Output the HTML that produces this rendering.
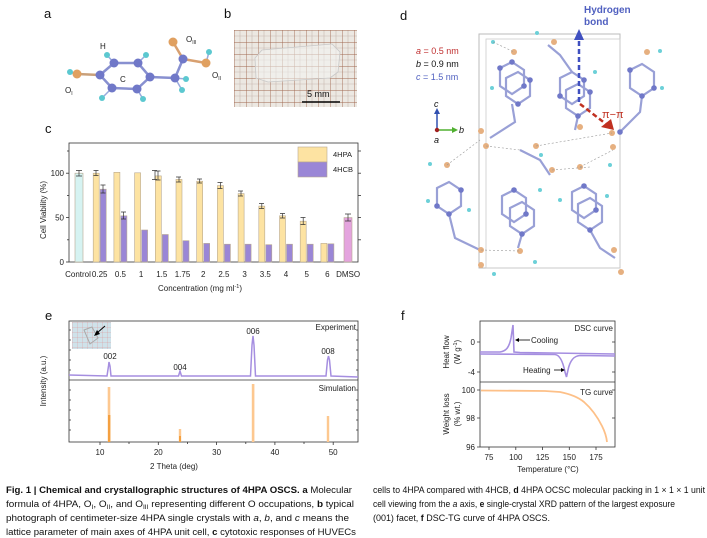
<!DOCTYPE html>
<html><head><meta charset="utf-8"><style>
html,body{margin:0;padding:0;background:#fff}
svg{display:block}
text{font-family:"Liberation Sans",sans-serif}
.cap{font-family:"Liberation Sans Narrow","Liberation Sans",sans-serif;font-size:9px;fill:#111}
</style></head><body>
<svg width="707" height="538" viewBox="0 0 707 538" xmlns="http://www.w3.org/2000/svg">
<g font-size="13" fill="#111">
<text x="44" y="18">a</text><text x="224" y="18">b</text><text x="45" y="133">c</text>
<text x="400" y="20">d</text><text x="45" y="320">e</text><text x="401" y="320">f</text>
</g>

<g stroke="#8890d0" stroke-width="2.5" fill="none">
<polygon points="100,75 114,63 138,63 150,77 137,89 112,88"/>
<line x1="77" y1="74" x2="100" y2="75" stroke="#c9a07a"/>
<line x1="150" y1="77" x2="175" y2="78"/>
<line x1="175" y1="78" x2="183" y2="59"/>
<line x1="183" y1="59" x2="173" y2="42" stroke="#d8a070"/>
<line x1="183" y1="59" x2="206" y2="63" stroke="#d8a070"/>
</g>
<g stroke="#9ad" stroke-width="1.5">
<line x1="114" y1="63" x2="107" y2="55"/><line x1="138" y1="63" x2="146" y2="55"/>
<line x1="112" y1="88" x2="102" y2="98"/><line x1="137" y1="89" x2="143" y2="99"/>
<line x1="77" y1="74" x2="70" y2="72"/><line x1="175" y1="78" x2="186" y2="79"/>
<line x1="175" y1="78" x2="182" y2="90"/><line x1="206" y1="63" x2="209" y2="52"/>
</g>
<g fill="#7078c8">
<circle cx="100" cy="75" r="4.5"/><circle cx="114" cy="63" r="4.5"/><circle cx="138" cy="63" r="4.5"/>
<circle cx="150" cy="77" r="4.5"/><circle cx="137" cy="89" r="4.5"/><circle cx="112" cy="88" r="4.5"/>
<circle cx="175" cy="78" r="4.5"/><circle cx="183" cy="59" r="4.5"/>
</g>
<g fill="#e0a060"><circle cx="77" cy="74" r="4.5"/><circle cx="173" cy="42" r="4.5"/><circle cx="206" cy="63" r="4.5"/></g>
<g fill="#5cc8d0">
<circle cx="107" cy="55" r="3"/><circle cx="146" cy="55" r="3"/><circle cx="102" cy="98" r="3"/><circle cx="143" cy="99" r="3"/>
<circle cx="70" cy="72" r="3"/><circle cx="186" cy="79" r="3"/><circle cx="182" cy="90" r="3"/><circle cx="209" cy="52" r="3"/>
</g>
<g font-size="8" fill="#222">
<text x="100" y="49">H</text><text x="120" y="82">C</text>
<text x="65" y="93">O<tspan font-size="5" dy="2">I</tspan></text>
<text x="186" y="42">O<tspan font-size="5" dy="2">III</tspan></text>
<text x="212" y="78">O<tspan font-size="5" dy="2">II</tspan></text>
</g>

<defs>
<pattern id="grid" x="234" y="30" width="12" height="12" patternUnits="userSpaceOnUse">
<rect width="12" height="12" fill="#ece8e2"/>
<path d="M6 0V12M0 6H12" stroke="#c8b8b0" stroke-width="0.6"/>
<path d="M0 0V12M0 0H12" stroke="#a06850" stroke-width="0.9"/>
</pattern>
<pattern id="grid2" x="72" y="322" width="5" height="5" patternUnits="userSpaceOnUse">
<rect width="5" height="5" fill="#cfe2ea"/>
<path d="M0 0V5M0 0H5" stroke="#e09090" stroke-width="0.5"/>
</pattern>
</defs>
<rect x="234" y="30" width="123" height="77" fill="url(#grid)"/>
<polygon points="262,50 332,44 340,52 338,72 330,78 268,82 256,78 255,58" fill="#f4f4f2" fill-opacity="0.55" stroke="#c8c8c8" stroke-width="0.8"/>
<line x1="302" y1="102" x2="340" y2="102" stroke="#000" stroke-width="1.5"/>
<text x="307" y="97" font-size="9" fill="#111">5 mm</text>

<rect x="69" y="143" width="289" height="119" fill="none" stroke="#333" stroke-width="0.8"/>
<g stroke="#333" stroke-width="0.8">
<line x1="66" y1="262" x2="69" y2="262"/><line x1="66" y1="217.6" x2="69" y2="217.6"/><line x1="66" y1="173.2" x2="69" y2="173.2"/>
<line x1="67" y1="239.8" x2="69" y2="239.8"/><line x1="67" y1="195.4" x2="69" y2="195.4"/><line x1="67" y1="151" x2="69" y2="151"/>
<line x1="358" y1="239.8" x2="361" y2="239.8"/><line x1="358" y1="217.6" x2="361" y2="217.6"/><line x1="358" y1="195.4" x2="361" y2="195.4"/><line x1="358" y1="173.2" x2="361" y2="173.2"/><line x1="358" y1="151" x2="361" y2="151"/>
</g>
<g font-size="8" fill="#222" text-anchor="end">
<text x="64" y="265">0</text><text x="64" y="220.5">50</text><text x="64" y="176">100</text>
</g>
<text transform="translate(46,210) rotate(-90)" font-size="8" fill="#222" text-anchor="middle">Cell Viability (%)</text>
<g stroke="#b8a890" stroke-width="0.6">
<rect x="75" y="173.2" width="8" height="88.8" fill="#d6f3f2"/>
<rect x="344" y="217.6" width="8" height="44.4" fill="#e4a4de"/>
<g fill="#fde3a2">
<rect x="93.2" y="173.2" width="6" height="88.8"/><rect x="113.9" y="172.3" width="6" height="89.7"/>
<rect x="134.6" y="172.8" width="6" height="89.2"/><rect x="155.3" y="175.9" width="6" height="86.1"/>
<rect x="176" y="179.4" width="6" height="82.6"/><rect x="196.7" y="181.2" width="6" height="80.8"/>
<rect x="217.4" y="185.6" width="6" height="76.4"/><rect x="238.1" y="193.6" width="6" height="68.4"/>
<rect x="258.8" y="206.1" width="6" height="55.9"/><rect x="279.5" y="215.8" width="6" height="46.2"/>
<rect x="300.2" y="221.2" width="6" height="40.8"/><rect x="320.9" y="243.4" width="6" height="18.6"/>
</g>
<g fill="#9a86d6">
<rect x="100.2" y="189.2" width="6" height="72.8"/><rect x="120.9" y="215.8" width="6" height="46.2"/>
<rect x="141.6" y="230" width="6" height="32"/><rect x="162.3" y="234.5" width="6" height="27.5"/>
<rect x="183" y="240.7" width="6" height="21.3"/><rect x="203.7" y="243.4" width="6" height="18.6"/>
<rect x="224.4" y="244.2" width="6" height="17.8"/><rect x="245.1" y="244.2" width="6" height="17.8"/>
<rect x="265.8" y="244.7" width="6" height="17.3"/><rect x="286.5" y="244.2" width="6" height="17.8"/>
<rect x="307.2" y="244.2" width="6" height="17.8"/><rect x="327.9" y="243.8" width="6" height="18.2"/>
</g>
</g>
<g stroke="#333" stroke-width="0.7">
<path d="M76 170.5h6M79 170.5v5.5M76 176h6"/><path d="M93.5 170.5h5M96 170.5v5M93.5 175.5h5"/>
<path d="M100.5 185h5M103 185v8M100.5 193h5"/><path d="M121 212h5M123.5 212v7M121 219h5"/>
<path d="M152 170.5h5M155 170.5v9M152 179.5h5"/><path d="M155.5 171h5M158 171v9M155.5 180h5"/>
<path d="M176 177h5M179 177v5M176 182h5"/><path d="M197 179h5M199.7 179v4M197 183h5"/>
<path d="M217.5 182.5h5M220.4 182.5v6M217.5 188.5h5"/><path d="M238 191h5M241 191v5M238 196h5"/>
<path d="M259 203.5h5M261.8 203.5v5M259 208.5h5"/><path d="M280 213.5h5M282.5 213.5v4.5M280 218h5"/>
<path d="M300.5 217.5h5M303.2 217.5v7M300.5 224.5h5"/><path d="M345 214h6M348 214v7M345 221h6"/>
</g>
<rect x="298" y="147" width="29" height="15" fill="#fde3a2" stroke="#b8a890" stroke-width="0.6"/>
<rect x="298" y="162" width="29" height="15" fill="#9a86d6" stroke="#b8a890" stroke-width="0.6"/>
<g font-size="7.5" fill="#222"><text x="333" y="157">4HPA</text><text x="333" y="172">4HCB</text></g>
<g font-size="8" fill="#222" text-anchor="middle">
<text x="78" y="277">Control</text><text x="99.7" y="277">0.25</text><text x="120.4" y="277">0.5</text><text x="141.1" y="277">1</text>
<text x="161.8" y="277">1.5</text><text x="182.5" y="277">1.75</text><text x="203.2" y="277">2</text><text x="223.9" y="277">2.5</text>
<text x="244.6" y="277">3</text><text x="265.3" y="277">3.5</text><text x="286" y="277">4</text><text x="306.7" y="277">5</text>
<text x="327.4" y="277">6</text><text x="348.1" y="277">DMSO</text>
<text x="200" y="291">Concentration (mg ml<tspan font-size="5.5" dy="-3">-1</tspan><tspan dy="3">)</tspan></text>
</g>

<rect x="479" y="34" width="141" height="234" fill="none" stroke="#bbb" stroke-width="1"/>
<rect x="486" y="39" width="134" height="229" fill="none" stroke="#ccc" stroke-width="0.8"/>
<g stroke="#8890d0" stroke-width="2.2" fill="none" opacity="0.85">
<polygon points="500,68 512,62 524,70 524,86 512,94 500,86"/>
<polygon points="506,78 518,72 530,80 530,96 518,104 506,96"/>
<polygon points="560,78 572,72 584,80 584,96 572,104 560,96"/>
<polygon points="566,90 578,84 590,92 590,108 578,116 566,108"/>
<polygon points="630,70 642,64 654,72 654,88 642,96 630,88"/>
<polygon points="437,188 449,182 461,190 461,206 449,214 437,206"/>
<polygon points="502,196 514,190 526,198 526,214 514,222 502,214"/>
<polygon points="510,208 522,202 534,210 534,226 522,234 510,226"/>
<polygon points="572,192 584,186 596,194 596,210 584,218 572,210"/>
<polygon points="578,204 590,198 602,206 602,222 590,230 578,222"/>
<path d="M512 104 L515 122 L490 138 M578 116 L575 130 M642 96 L640 112 L620 132 M449 214 L455 238 L480 250 M522 234 L518 248 M590 230 L600 248 L615 258"/>
<path d="M520 150 L540 160 L550 175 M548 45 L560 55 L572 72"/>
</g>
<g fill="#7078c8">
<circle cx="500" cy="68" r="2.8"/><circle cx="512" cy="62" r="2.8"/><circle cx="524" cy="86" r="2.8"/><circle cx="518" cy="104" r="2.8"/><circle cx="530" cy="80" r="2.8"/>
<circle cx="560" cy="96" r="2.8"/><circle cx="584" cy="80" r="2.8"/><circle cx="578" cy="116" r="2.8"/><circle cx="590" cy="92" r="2.8"/>
<circle cx="630" cy="70" r="2.8"/><circle cx="654" cy="88" r="2.8"/><circle cx="642" cy="96" r="2.8"/>
<circle cx="437" cy="206" r="2.8"/><circle cx="461" cy="190" r="2.8"/><circle cx="449" cy="214" r="2.8"/>
<circle cx="514" cy="190" r="2.8"/><circle cx="526" cy="214" r="2.8"/><circle cx="522" cy="234" r="2.8"/>
<circle cx="584" cy="186" r="2.8"/><circle cx="596" cy="210" r="2.8"/><circle cx="590" cy="230" r="2.8"/><circle cx="620" cy="132" r="2.8"/>
</g>
<g fill="#e6b080">
<circle cx="481" cy="131" r="3"/><circle cx="486" cy="146" r="3"/><circle cx="447" cy="165" r="3"/><circle cx="514" cy="52" r="3"/>
<circle cx="554" cy="42" r="3"/><circle cx="647" cy="52" r="3"/><circle cx="612" cy="133" r="3"/><circle cx="580" cy="127" r="3"/>
<circle cx="613" cy="147" r="3"/><circle cx="552" cy="170" r="3"/><circle cx="580" cy="167" r="3"/><circle cx="536" cy="146" r="3"/>
<circle cx="481" cy="250" r="3"/><circle cx="481" cy="265" r="3"/><circle cx="520" cy="251" r="3"/><circle cx="614" cy="250" r="3"/><circle cx="621" cy="272" r="3"/>
</g>
<g fill="#6cd0d8">
<circle cx="493" cy="42" r="2"/><circle cx="537" cy="33" r="2"/><circle cx="660" cy="51" r="2"/><circle cx="662" cy="88" r="2"/>
<circle cx="430" cy="164" r="2"/><circle cx="428" cy="201" r="2"/><circle cx="469" cy="210" r="2"/><circle cx="540" cy="190" r="2"/>
<circle cx="560" cy="200" r="2"/><circle cx="607" cy="196" r="2"/><circle cx="535" cy="262" r="2"/><circle cx="494" cy="274" r="2"/>
<circle cx="610" cy="165" r="2"/><circle cx="541" cy="155" r="2"/><circle cx="595" cy="72" r="2"/><circle cx="492" cy="88" r="2"/>
</g>
<g stroke="#999" stroke-width="0.6" stroke-dasharray="2,2">
<path d="M447 165 L480 140 M486 146 L520 150 M536 146 L612 133 M580 167 L613 150 M552 170 L590 167 M481 250 L520 251 M493 42 L514 52"/>
</g>
<line x1="579" y1="102" x2="579" y2="38" stroke="#4050c0" stroke-width="2.5" stroke-dasharray="5,3"/>
<polygon points="574,40 584,40 579,29" fill="#4050c0"/>
<line x1="580" y1="104" x2="606" y2="124" stroke="#c03020" stroke-width="2.5" stroke-dasharray="5,3"/>
<polygon points="601,127 611,119 614,130" fill="#c03020"/>
<text x="602" y="118" font-size="11" fill="#c03020">π−π</text>
<g font-size="10" font-weight="bold" fill="#5060c0"><text x="584" y="13">Hydrogen</text><text x="584" y="25">bond</text></g>
<g font-size="9">
<text x="416" y="54" fill="#c03030"><tspan font-style="italic">a</tspan> = 0.5 nm</text>
<text x="416" y="67" fill="#111"><tspan font-style="italic">b</tspan> = 0.9 nm</text>
<text x="416" y="80" fill="#5060c0"><tspan font-style="italic">c</tspan> = 1.5 nm</text>
</g>
<line x1="437" y1="130" x2="437" y2="112" stroke="#3050b0" stroke-width="1.5"/><polygon points="434,114 440,114 437,108" fill="#3050b0"/>
<line x1="437" y1="130" x2="454" y2="130" stroke="#50b030" stroke-width="1.5"/><polygon points="452,127 452,133 458,130" fill="#50b030"/>
<circle cx="437" cy="130" r="2.2" fill="#a02020"/>
<g font-size="9" font-style="italic" fill="#111"><text x="434" y="107">c</text><text x="459" y="133">b</text><text x="434" y="143">a</text></g>

<rect x="69" y="321" width="289" height="121" fill="none" stroke="#333" stroke-width="0.8"/>
<line x1="69" y1="380" x2="358" y2="380" stroke="#333" stroke-width="0.8"/>
<g stroke="#333" stroke-width="0.8">
<path d="M100 442v3M158.3 442v3M216.6 442v3M274.9 442v3M333.2 442v3M129 442v2M187.5 442v2M245.8 442v2M304 442v2"/>
<path d="M69 330h2M69 340h2M69 350h2M69 360h2M69 370h2M69 390h2M69 400h2M69 410h2M69 420h2M69 430h2M356 330h2M356 340h2M356 350h2M356 360h2M356 370h2M356 390h2M356 400h2M356 410h2M356 420h2M356 430h2"/>
</g>
<g font-size="8" fill="#222" text-anchor="middle">
<text x="100" y="455">10</text><text x="158.3" y="455">20</text><text x="216.6" y="455">30</text><text x="274.9" y="455">40</text><text x="333.2" y="455">50</text>
<text x="174" y="469">2 Theta (deg)</text>
</g>
<text transform="translate(46,381) rotate(-90)" font-size="8" fill="#222" text-anchor="middle">Intensity (a.u.)</text>
<rect x="72" y="322" width="39" height="27" fill="url(#grid2)"/>
<path d="M84 330 L92 327 L98 338 L90 344 Z" fill="none" stroke="#aaa" stroke-width="1"/>
<line x1="105" y1="326" x2="97" y2="333" stroke="#000" stroke-width="1"/><polygon points="94,336 97,330 100,334" fill="#000"/>
<path d="M69 375 L107 376 L108.5 366 L109 362 L110 366 L111 376 L178.5 376 L180 371 L181.5 376 L250.5 376 L252 345 L253 336 L254 345 L255.5 376 L326 376 L327.5 360 L328.5 356 L329.5 360 L331 376 L358 377" fill="none" stroke="#a58ee0" stroke-width="1.5"/>
<g font-size="8" fill="#222" text-anchor="middle">
<text x="110" y="359">002</text><text x="180" y="370">004</text><text x="253" y="334">006</text><text x="328" y="354">008</text>
</g>
<g font-size="8" fill="#222" text-anchor="end"><text x="356" y="330">Experiment</text><text x="356" y="391">Simulation</text></g>
<g fill="#fdc890">
<rect x="107.7" y="387" width="2.6" height="55"/><rect x="178.8" y="429" width="2.4" height="13"/>
<rect x="251.8" y="384" width="2.6" height="58"/><rect x="326.8" y="416" width="2.4" height="26"/>
</g>
<g fill="#f4a040"><rect x="108" y="415" width="2.4" height="27"/><rect x="179" y="436" width="2" height="6"/></g>

<rect x="480" y="321" width="135" height="126" fill="none" stroke="#333" stroke-width="0.8"/>
<line x1="480" y1="382" x2="615" y2="382" stroke="#333" stroke-width="0.8"/>
<g stroke="#333" stroke-width="0.8">
<path d="M489 447v3M515.8 447v3M542.5 447v3M569.3 447v3M596 447v3"/>
<path d="M477 342h3M477 372h3M477 390h3M477 418h3M477 447h3M612 342h3M612 372h3M612 390h3M612 418h3"/>
</g>
<g font-size="8" fill="#222" text-anchor="end">
<text x="475" y="345">0</text><text x="475" y="375">-4</text>
<text x="475" y="393">100</text><text x="475" y="421">98</text><text x="475" y="450">96</text>
<text x="613" y="331">DSC curve</text><text x="613" y="395">TG curve</text>
</g>
<g font-size="8" fill="#222" text-anchor="middle">
<text x="489" y="460">75</text><text x="515.8" y="460">100</text><text x="542.5" y="460">125</text><text x="569.3" y="460">150</text><text x="596" y="460">175</text>
<text x="548" y="472">Temperature (°C)</text>
<text transform="translate(449,352) rotate(-90)">Heat flow</text>
<text transform="translate(460,352) rotate(-90)">(W g<tspan font-size="5.5" dy="-3">-1</tspan><tspan dy="3">)</tspan></text>
<text transform="translate(449,414) rotate(-90)">Weight loss</text>
<text transform="translate(460,414) rotate(-90)">(% wt.)</text>
</g>
<path d="M480 352 L500 352 C506 351 509 348 511 338 L513 325 L514 352 L520 352.5 L615 354" fill="none" stroke="#a58ee0" stroke-width="1.6"/>
<path d="M480 354 L555 354.5 C560 355 563 362 565 372 L566.5 377 L568 370 C570 360 574 356 580 355.5 L615 356" fill="none" stroke="#a58ee0" stroke-width="1.6"/>
<path d="M481 390.5 L545 391 L560 392 C570 394 578 397 584 402 C592 409 598 418 602 426 C605 432 606.5 437 607 442" fill="none" stroke="#fdc088" stroke-width="1.8"/>
<line x1="530" y1="340" x2="518" y2="340" stroke="#000" stroke-width="0.8"/><polygon points="515,340 519,338 519,342" fill="#000"/>
<text x="531" y="343" font-size="8" fill="#222">Cooling</text>
<text x="523" y="373" font-size="8" fill="#222">Heating</text>
<line x1="554" y1="370" x2="562" y2="370" stroke="#000" stroke-width="0.8"/><polygon points="565,370 561,368 561,372" fill="#000"/>

<text class="cap" x="6" y="493" textLength="346" lengthAdjust="spacingAndGlyphs"><tspan font-weight="bold">Fig. 1 | Chemical and crystallographic structures of 4HPA OSCS. a</tspan> Molecular</text>
<text class="cap" x="6" y="507" textLength="348" lengthAdjust="spacingAndGlyphs">formula of 4HPA, O<tspan font-size="6" dy="2">I</tspan><tspan dy="-2">, O</tspan><tspan font-size="6" dy="2">II</tspan><tspan dy="-2">, and O</tspan><tspan font-size="6" dy="2">III</tspan><tspan dy="-2"> representing different O occupations, </tspan><tspan font-weight="bold">b</tspan> typical</text>
<text class="cap" x="6" y="521" textLength="343" lengthAdjust="spacingAndGlyphs">photograph of centimeter-size 4HPA single crystals with <tspan font-style="italic">a</tspan>, <tspan font-style="italic">b</tspan>, and <tspan font-style="italic">c</tspan> means the</text>
<text class="cap" x="6" y="535" textLength="350" lengthAdjust="spacingAndGlyphs">lattice parameter of main axes of 4HPA unit cell, <tspan font-weight="bold">c</tspan> cytotoxic responses of HUVECs</text>
<text class="cap" x="373" y="493" textLength="332" lengthAdjust="spacingAndGlyphs">cells to 4HPA compared with 4HCB, <tspan font-weight="bold">d</tspan> 4HPA OCSC molecular packing in 1 × 1 × 1 unit</text>
<text class="cap" x="373" y="507" textLength="302" lengthAdjust="spacingAndGlyphs">cell viewing from the <tspan font-style="italic">a</tspan> axis, <tspan font-weight="bold">e</tspan> single-crystal XRD pattern of the largest exposure</text>
<text class="cap" x="373" y="521" textLength="177" lengthAdjust="spacingAndGlyphs">(001) facet, <tspan font-weight="bold">f</tspan> DSC-TG curve of 4HPA OSCS.</text>
</svg>
</body></html>
